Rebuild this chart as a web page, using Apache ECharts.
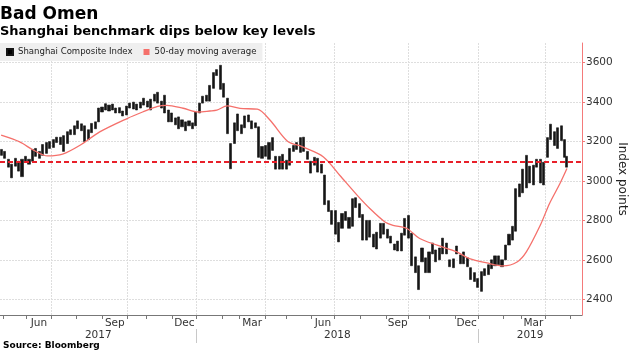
<!DOCTYPE html>
<html>
<head>
<meta charset="utf-8">
<title>Bad Omen</title>
<script src="https://cdn.jsdelivr.net/npm/echarts@6/dist/echarts.min.js"></script>
<style>
  html, body { margin: 0; padding: 0; background: #fff; }
  #chart { width: 630px; height: 354px; }
</style>
</head>
<body>
<div id="chart"></div>
<script>
// trading-day index of each sampled candle (0 = 27 Apr 2017, about 3 sessions apart)
const days = [
  0, 3, 6, 9, 12, 15, 18, 21, 24, 27,
  30, 33, 36, 39, 42, 45, 48, 51, 54, 57,
  60, 63, 66, 69, 72, 75, 78, 81, 84, 87,
  90, 93, 96, 99, 102, 105, 108, 111, 114, 117,
  120, 123, 126, 129, 132, 135, 138, 141, 144, 147,
  150, 153, 156, 159, 162, 165, 168, 171, 174, 177,
  180, 183, 186, 189, 192, 195, 198, 201, 204, 207,
  210, 213, 216, 219, 222, 225, 228, 231, 234, 237,
  240, 243, 246, 249, 252, 255, 258, 261, 264, 267,
  270, 273, 276, 279, 282, 285, 288, 291, 294, 297,
  300, 303, 306, 309, 312, 315, 318, 321, 324, 327,
  330, 333, 336, 339, 342, 345, 348, 351, 354, 357,
  360, 363, 366, 369, 372, 375, 378, 381, 384, 387,
  390, 393, 396, 399, 402, 405, 408, 411, 414, 417,
  420, 423, 426, 429, 432, 435, 438, 441, 444, 447,
  450, 453, 456, 459, 462, 465, 468, 471, 474, 477,
  480, 483, 486, 488
]
const lows = [
  3130, 3115, 3070, 3016, 3075, 3050, 3022, 3095, 3085, 3100,
  3125, 3115, 3130, 3140, 3165, 3170, 3195, 3185, 3150, 3190,
  3235, 3235, 3265, 3255, 3200, 3210, 3245, 3265, 3300, 3350,
  3360, 3355, 3360, 3345, 3345, 3330, 3335, 3370, 3365, 3360,
  3370, 3385, 3375, 3360, 3405, 3395, 3370, 3345, 3300, 3300,
  3285, 3265, 3275, 3255, 3280, 3265, 3280, 3345, 3395, 3405,
  3405, 3470, 3535, 3465, 3425, 3240, 3062, 3190, 3255, 3240,
  3270, 3300, 3265, 3270, 3120, 3115, 3125, 3110, 3155, 3060,
  3060, 3060, 3060, 3080, 3150, 3160, 3145, 3150, 3110, 3040,
  3080, 3045, 3040, 2880, 2845, 2780, 2730, 2691, 2760, 2800,
  2760, 2770, 2865, 2815, 2700, 2700, 2715, 2665, 2655, 2710,
  2730, 2710, 2685, 2650, 2645, 2645, 2725, 2710, 2570, 2535,
  2449, 2590, 2535, 2535, 2630, 2590, 2600, 2630, 2630, 2565,
  2560, 2630, 2580, 2580, 2565, 2500, 2490, 2460, 2440, 2520,
  2525, 2555, 2570, 2575, 2565, 2600, 2675, 2700, 2745, 2920,
  2940, 2965, 2990, 2980, 3070, 2990, 2980, 3120, 3210, 3180,
  3165, 3205, 3120, 3070
]
const highs = [
  3160, 3150, 3110, 3085, 3115, 3100, 3110, 3125, 3110, 3160,
  3165, 3150, 3185, 3195, 3200, 3210, 3222, 3222, 3230, 3250,
  3260, 3280, 3305, 3290, 3280, 3260, 3292, 3300, 3370, 3375,
  3392, 3385, 3390, 3370, 3372, 3355, 3380, 3395, 3400, 3390,
  3400, 3420, 3405, 3415, 3440, 3450, 3405, 3435, 3360, 3345,
  3320, 3325, 3310, 3300, 3305, 3295, 3350, 3395, 3430, 3435,
  3485, 3550, 3565, 3587, 3495, 3420, 3190, 3295, 3340, 3285,
  3330, 3335, 3305, 3295, 3275, 3175, 3180, 3195, 3220, 3125,
  3125, 3135, 3105, 3165, 3180, 3195, 3220, 3222, 3150, 3100,
  3120, 3115, 3085, 3030, 2900, 2850, 2850, 2790, 2835, 2845,
  2815, 2910, 2915, 2885, 2830, 2800, 2800, 2730, 2740, 2785,
  2785, 2755, 2720, 2680, 2695, 2735, 2810, 2825, 2735, 2615,
  2570, 2660, 2610, 2640, 2685, 2650, 2660, 2710, 2685, 2600,
  2605, 2670, 2625, 2640, 2610, 2560, 2535, 2505, 2540, 2555,
  2575, 2600, 2620, 2620, 2600, 2675, 2730, 2770, 2961, 2985,
  3060, 3130, 3075, 3080, 3110, 3110, 3095, 3220, 3288, 3250,
  3270, 3280, 3210, 3125
]

// 50-day moving average, read at sparse points
const maDays = [0, 16, 28, 40, 53, 68, 85, 109, 122, 135, 143, 157, 170, 180, 186, 195, 206, 221, 232, 247,
  260, 278, 292, 307, 318, 331, 338, 350, 361, 376, 393, 404, 419, 433, 445, 453, 465, 473, 482, 488]
const maValues = [3232, 3198, 3156, 3127, 3136, 3181, 3249, 3318, 3350, 3379, 3384, 3369, 3350, 3355, 3359, 3381, 3368, 3364, 3308, 3202,
  3173, 3122, 3029, 2928, 2860, 2792, 2775, 2759, 2708, 2674, 2640, 2606, 2584, 2569, 2589, 2640, 2775, 2886, 2987, 3063]

const keyLevel = 3100
const yTicks = [2400, 2600, 2800, 3000, 3200, 3400, 3600]

// first trading day of each month, May 2017 .. May 2019
const monthStarts = [2, 22, 44, 65, 88, 109, 126, 148, 169, 191, 206, 228, 246, 268, 288, 310, 333, 352, 370, 392, 412, 434, 449, 470, 491]
const monthNames = ['May', 'Jun', 'Jul', 'Aug', 'Sep', 'Oct', 'Nov', 'Dec', 'Jan', 'Feb', 'Mar', 'Apr',
  'May', 'Jun', 'Jul', 'Aug', 'Sep', 'Oct', 'Nov', 'Dec', 'Jan', 'Feb', 'Mar', 'Apr', 'May']
const labelMonths = ['Jun', 'Sep', 'Dec', 'Mar']
const yearNames = ['2017', '2018', '2019']

const xMin = -1
const xMax = 501

const candleData = days.map((d, i) => [d, lows[i], highs[i], lows[i], highs[i]])
const maData = maDays.map((d, i) => [d, maValues[i]])

const monthTicks = monthStarts.map(d => d - 0.5)
const quarterTicks = monthStarts.filter((d, i) => ['Jul', 'Oct', 'Jan', 'Apr'].includes(monthNames[i])).map(d => d - 0.5)
const monthLabels = []
monthStarts.forEach((d, i) => {
  if (i < monthStarts.length - 1 && labelMonths.includes(monthNames[i])) {
    monthLabels.push({ pos: (d + monthStarts[i + 1] - 1) / 2, text: monthNames[i] })
  }
})
const yearTicks = monthStarts.filter((d, i) => monthNames[i] === 'Jan').map(d => d - 0.5)
const yearEdges = [xMin, ...yearTicks, xMax]
const yearLabels = yearNames.map((t, i) => ({ pos: (yearEdges[i] + yearEdges[i + 1]) / 2, text: t }))

const nearest = (list, v) => {
  let best = list[0]
  list.forEach(l => { if (Math.abs(l.pos - v) < Math.abs(best.pos - v)) best = l })
  return best.text
}

const FONT = 'DejaVu Sans'
const axisRed = '#f47a7a'

const chart = echarts.init(document.getElementById('chart'))
const option = {
  animation: false,
  backgroundColor: '#fff',
  title: {
    left: 0,
    top: 6,
    padding: 0,
    itemGap: 2,
    text: 'Bad Omen',
    subtext: 'Shanghai benchmark dips below key levels',
    textStyle: { fontFamily: FONT, fontSize: 17, fontWeight: 'bold', color: '#000' },
    subtextStyle: { fontFamily: FONT, fontSize: 13, fontWeight: 'bold', color: '#000' }
  },
  legend: {
    left: 0,
    top: 43,
    padding: [4, 6, 4, 6],
    itemGap: 11,
    itemWidth: 6,
    itemHeight: 6,
    backgroundColor: '#efefef',
    selectedMode: false,
    textStyle: { fontFamily: 'DejaVu Sans Condensed', fontSize: 9.5, color: '#222' },
    data: [
      { name: 'Shanghai Composite Index', icon: 'rect', itemStyle: { color: '#000' } },
      { name: '50-day moving average', icon: 'rect', itemStyle: { color: '#f5706b' } }
    ]
  },
  grid: {
    left: 0,
    right: 48,
    top: 43,
    bottom: 39,
    containLabel: false,
    outerBoundsMode: 'none'
  },
  xAxis: [
    {
      type: 'value',
      min: xMin,
      max: xMax,
      position: 'bottom',
      axisLine: { show: true, onZero: false, lineStyle: { color: '#777', width: 1 } },
      axisTick: { show: true, customValues: monthTicks, length: 4, lineStyle: { color: '#777' } },
      axisLabel: {
        customValues: monthLabels.map(l => l.pos),
        formatter: v => nearest(monthLabels, v),
        margin: 3,
        color: '#333',
        fontSize: 10.5,
        fontFamily: FONT
      },
      splitLine: { show: false }
    },
    {
      type: 'value',
      min: xMin,
      max: xMax,
      position: 'bottom',
      axisLine: { show: false, onZero: false },
      axisTick: { show: false, customValues: quarterTicks },
      axisLabel: { show: false },
      splitLine: { show: true, lineStyle: { color: '#dedede', width: 1, type: [2, 1] } }
    },
    {
      type: 'value',
      min: xMin,
      max: xMax,
      position: 'bottom',
      offset: 14,
      axisLine: { show: false, onZero: false },
      axisTick: { show: true, customValues: yearTicks, length: 14, lineStyle: { color: '#c8c8c8' } },
      axisLabel: {
        customValues: yearLabels.map(l => l.pos),
        formatter: v => nearest(yearLabels, v),
        margin: 1,
        color: '#333',
        fontSize: 10.5,
        fontFamily: FONT
      },
      splitLine: { show: false }
    }
  ],
  yAxis: {
    type: 'value',
    position: 'right',
    min: 2320,
    max: 3700,
    name: 'Index points',
    nameLocation: 'middle',
    nameRotate: -90,
    nameGap: 34,
    nameMoveOverlap: false,
    nameTextStyle: { fontFamily: FONT, fontSize: 12, color: '#222' },
    axisLine: { show: true, onZero: false, lineStyle: { color: axisRed, width: 1 } },
    axisTick: { show: true, customValues: yTicks, length: 3, lineStyle: { color: axisRed } },
    axisLabel: {
      customValues: yTicks,
      formatter: v => String(v),
      margin: 4,
      color: '#333',
      fontSize: 10.5,
      fontFamily: FONT
    },
    splitLine: { show: true, lineStyle: { color: '#dedede', width: 1, type: [2, 1] } }
  },
  series: [
    {
      name: 'Shanghai Composite Index',
      type: 'candlestick',
      xAxisIndex: 0,
      barWidth: 2.6,
      itemStyle: {
        color: '#151515',
        color0: '#151515',
        borderColor: '#151515',
        borderColor0: '#151515',
        borderWidth: 0.6
      },
      data: candleData,
      z: 3
    },
    {
      name: '50-day moving average',
      type: 'line',
      xAxisIndex: 0,
      smooth: 0.3,
      showSymbol: false,
      lineStyle: { color: '#f5706b', width: 1.3 },
      itemStyle: { color: '#f5706b' },
      data: maData,
      z: 4,
      markLine: {
        silent: true,
        symbol: ['none', 'none'],
        label: { show: false },
        lineStyle: { color: '#e8202a', type: [5, 3], width: 1.8 },
        data: [{ yAxis: keyLevel }],
        z: 6
      }
    }
  ],
  graphic: [
    {
      type: 'text',
      left: 3,
      top: 341,
      style: { text: 'Source: Bloomberg', font: 'bold 9px "DejaVu Sans"', fill: '#000' }
    }
  ]
}
chart.setOption(option)
window.addEventListener('resize', () => chart.resize())
</script>
</body>
</html>
